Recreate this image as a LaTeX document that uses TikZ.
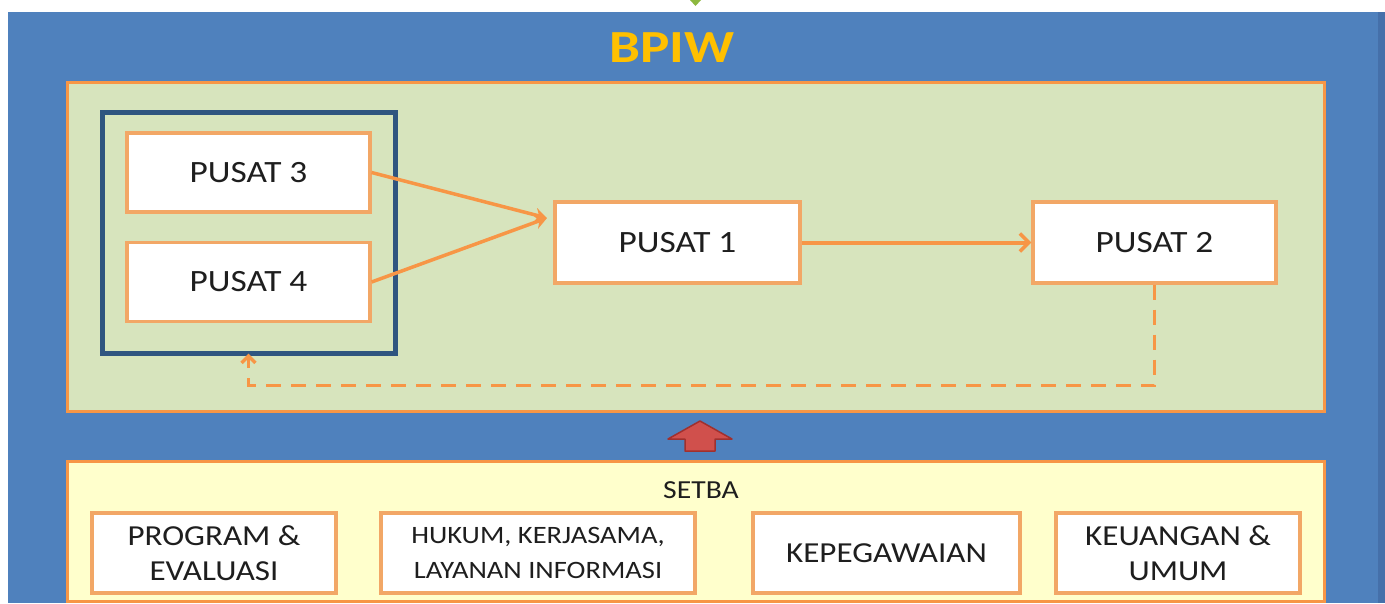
\documentclass[tikz,border=0pt]{standalone}
\usepackage{fontspec}
\setmainfont{Carlito}
\usetikzlibrary{arrows.meta}
\definecolor{bgblue}{HTML}{4F81BD}
\definecolor{bgblueD}{HTML}{4570AA}
\definecolor{panelgreen}{HTML}{D7E4BD}
\definecolor{panelyellow}{HTML}{FFFFCC}
\definecolor{orng}{HTML}{F79646}
\definecolor{orngL}{HTML}{F2A766}
\definecolor{frameblue}{HTML}{2F5580}
\definecolor{gold}{HTML}{FFC000}
\definecolor{txt}{HTML}{1E1E1E}
\definecolor{redfill}{HTML}{D0504C}
\definecolor{redline}{HTML}{A0302E}
\definecolor{tickgreen}{HTML}{8DB83F}
\newcommand\sx[1]{\scalebox{1.14}[1]{#1}}
\tikzset{
  wbox/.style={draw=orngL, line width=3.2pt, fill=white, inner sep=0pt, text=txt},
  panel/.style={draw=orng, line width=3pt},
  flow/.style={draw=orng, line width=3.5pt},
}
\begin{document}
\begin{tikzpicture}[x=1pt,y=-1pt]
\useasboundingbox (0,0) rectangle (1385,603);
\fill[white] (0,0) rectangle (1385,603);
% blue background
\fill[bgblue] (8,12) rectangle (1385,603);
\fill[bgblueD] (1378,12) rectangle (1385,603);
\fill[tickgreen] (690,0) -- (701,0) -- (695.5,6) -- cycle;
% title
\node[text=gold, font=\bfseries\fontsize{46}{50}\selectfont] (title) at (672,48) {\scalebox{1.2}[1]{BPIW}};
% green panel
\node[panel, fill=panelgreen, minimum width=1257pt, minimum height=329pt, inner sep=0pt] (green) at (695.5,246.5) {};
% dark frame
\node[draw=frameblue, line width=5pt, minimum width=293pt, minimum height=241pt, inner sep=0pt] (frame) at (248.5,232.5) {};
% pusat boxes
\node[wbox, minimum width=243pt, minimum height=79pt, font=\fontsize{31}{37}\selectfont] (p3) at (248.5,172.5) {\sx{PUSAT 3}};
\node[wbox, minimum width=243pt, minimum height=79pt, font=\fontsize{31}{37}\selectfont] (p4) at (248.5,282) {\sx{PUSAT 4}};
\node[wbox, minimum width=245pt, minimum height=81pt, font=\fontsize{31}{37}\selectfont] (p1) at (677.5,242.5) {\sx{PUSAT 1}};
\node[wbox, minimum width=243pt, minimum height=81pt, font=\fontsize{31}{37}\selectfont] (p2) at (1154.5,242.5) {\sx{PUSAT 2}};
\coordinate (join) at (547,218);
\draw[flow, -{Stealth[length=12pt,width=14pt]}] (p3.east) -- (join);
\draw[flow, -{Stealth[length=12pt,width=14pt]}] (p4.east) -- (join);
\draw[flow, line width=4pt, -{Straight Barb[length=9pt,width=18pt,line width=3.5pt]}] (p1.east) -- (p2.west);
\draw[flow, dash pattern=on 15pt off 10pt, -{Straight Barb[length=7pt,width=14pt,line width=3.5pt]}] (p2.south) -- ++(0,101) -| ([yshift=2pt]frame.south);
% red block arrow
\draw[fill=redfill, draw=redline, line width=1.5pt, line join=round] (700,421) -- (732,439) -- (715,439) -- (715,451) -- (685,451) -- (685,439) -- (668,439) -- cycle;
% yellow panel
\node[panel, fill=panelyellow, minimum width=1257pt, minimum height=140pt, inner sep=0pt] (setba) at (695.5,531) {};
\node[text=txt, font=\fontsize{26}{30}\selectfont] (setbat) at (701,490) {\sx{SETBA}};
% bottom boxes
\node[wbox, minimum width=244pt, minimum height=80pt, align=center, font=\fontsize{29}{35}\selectfont] (prog) at (214,553) {\sx{PROGRAM \&}\\\sx{EVALUASI}};
\node[wbox, minimum width=314pt, minimum height=80pt, align=center, font=\fontsize{25}{35}\selectfont] (hukum) at (538,553) {\sx{HUKUM, KERJASAMA,}\\\sx{LAYANAN INFORMASI}};
\node[wbox, minimum width=267pt, minimum height=80pt, align=center, font=\fontsize{29}{35}\selectfont] (kepeg) at (886.5,553) {\sx{KEPEGAWAIAN}};
\node[wbox, minimum width=244pt, minimum height=80pt, align=center, font=\fontsize{29}{35}\selectfont] (keu) at (1178,553) {\sx{KEUANGAN \&}\\\sx{UMUM}};
\end{tikzpicture}
\end{document}
